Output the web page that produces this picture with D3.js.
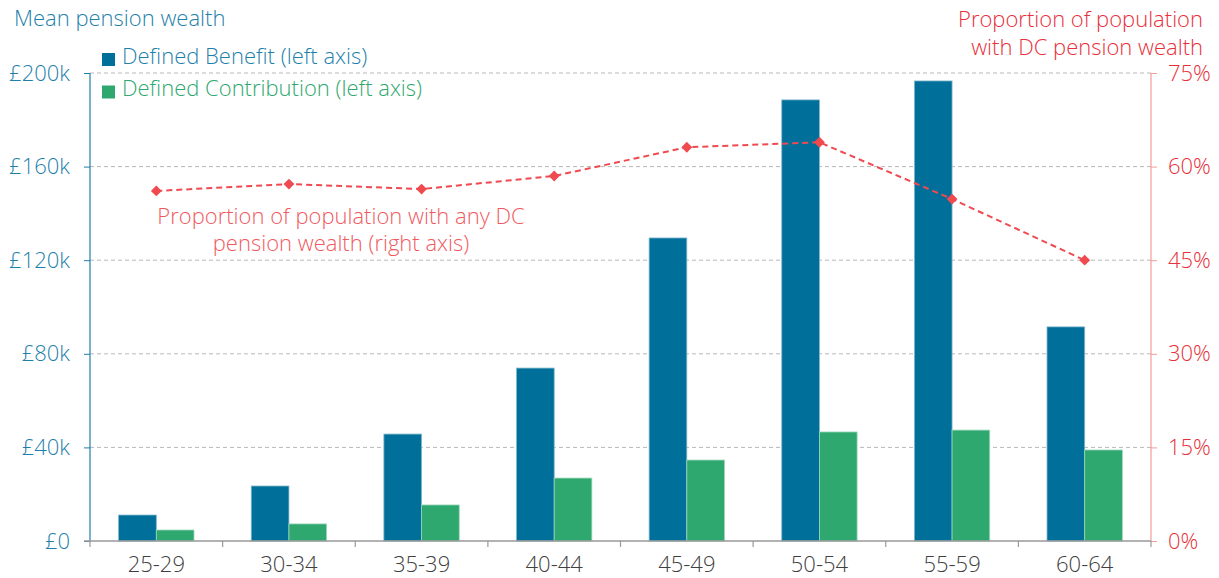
<!DOCTYPE html>
<html>
<head>
<meta charset="utf-8">
<script src="https://cdn.jsdelivr.net/npm/d3@7"></script>
<style>
  html, body { margin: 0; padding: 0; background: #fff; }
  svg { display: block; font-family: "Open Sans", "Roboto", sans-serif; font-weight: 300; }
</style>
</head>
<body>
<svg id="chart" width="1219" height="578"></svg>
<script>
// Age groups
const ageGroups = ["25-29", "30-34", "35-39", "40-44", "45-49", "50-54", "55-59", "60-64"];
// Mean pension wealth (£k)
const definedBenefit = [11.1, 23.5, 45.7, 73.9, 129.5, 188.5, 196.6, 91.5];
const definedContribution = [4.7, 7.3, 15.4, 26.9, 34.6, 46.6, 47.4, 38.9];
// Share of population with any DC pension wealth (%)
const dcShare = [56.1, 57.2, 56.4, 58.5, 63.1, 63.9, 54.8, 45.0];
// Axis ticks
const leftTicks = [0, 40, 80, 120, 160, 200];
const rightTicks = [0, 15, 30, 45, 60, 75];

const colDB = "#006f9a", colDC = "#2ea86e", colLine = "#ef4a50";
const colLeft = "#1e7fab", colRight = "#e8303a";
const FONT = "22px";

const svg = d3.select("#chart");
const x0 = 90, x1 = 1151, yTop = 73, yBot = 541;

const x = d3.scaleBand().domain(ageGroups).range([x0, x1]).paddingInner(0).paddingOuter(0);
const sub = d3.scaleBand().domain(["db", "dc"]).range([0, x.bandwidth()]).paddingOuter(0.76).paddingInner(0);
const yL = d3.scaleLinear().domain([0, 200]).range([yBot, yTop]);
const yR = d3.scaleLinear().domain([0, 75]).range([yBot, yTop]);

// Gridlines
svg.append("g").selectAll("line").data(leftTicks.filter(d => d > 0)).join("line")
  .attr("x1", x0).attr("x2", x1)
  .attr("y1", d => yL(d)).attr("y2", d => yL(d))
  .attr("stroke", "#b8b8b8").attr("stroke-width", 1).attr("stroke-dasharray", "4,3");

// Bars
const groups = svg.append("g").selectAll("g").data(ageGroups).join("g")
  .attr("transform", d => `translate(${x(d)},0)`);
groups.append("rect")
  .attr("x", sub("db")).attr("width", sub.bandwidth())
  .attr("y", (d, i) => yL(definedBenefit[i]))
  .attr("height", (d, i) => yBot - yL(definedBenefit[i]))
  .attr("fill", colDB).attr("stroke", "#7fb7cc").attr("stroke-width", 0.8);
groups.append("rect")
  .attr("x", sub("dc")).attr("width", sub.bandwidth())
  .attr("y", (d, i) => yL(definedContribution[i]))
  .attr("height", (d, i) => yBot - yL(definedContribution[i]))
  .attr("fill", colDC).attr("stroke", "#9fd8bc").attr("stroke-width", 0.8);

// Left axis
const leftAxis = svg.append("g").attr("transform", `translate(${x0},0)`)
  .call(d3.axisLeft(yL).tickValues(leftTicks).tickSize(6).tickPadding(14).tickFormat(d => `£${d === 0 ? 0 : d + "k"}`));
leftAxis.select(".domain").attr("stroke", colLeft).attr("stroke-width", 1.2).attr("d", `M0,${yTop}V${yBot}`);
leftAxis.selectAll(".tick line").attr("stroke", colLeft);
leftAxis.selectAll(".tick text").attr("fill", colLeft).style("font-size", FONT).style("font-family", "Open Sans").style("font-weight", 300);

// Right axis
const rightAxis = svg.append("g").attr("transform", `translate(${x1},0)`)
  .call(d3.axisRight(yR).tickValues(rightTicks).tickSize(6).tickPadding(11).tickFormat(d => d + "%"));
rightAxis.select(".domain").attr("stroke", "#f59a9c").attr("stroke-width", 1.2).attr("d", `M0,${yTop}V${yBot}`);
rightAxis.selectAll(".tick line").attr("stroke", "#f59a9c");
rightAxis.selectAll(".tick text").attr("fill", colRight).style("font-size", FONT).style("font-family", "Open Sans").style("font-weight", 300);

// Bottom axis: ticks at group boundaries
const bottom = svg.append("g");
bottom.append("line").attr("x1", 84).attr("x2", x1).attr("y1", yBot).attr("y2", yBot)
  .attr("stroke", "#999").attr("stroke-width", 1.5);
const bounds = ageGroups.map(d => x(d)).concat([x1]);
bottom.selectAll("line.b").data(bounds).join("line").attr("class", "b")
  .attr("x1", d => d).attr("x2", d => d).attr("y1", yBot).attr("y2", yBot + 6)
  .attr("stroke", "#999").attr("stroke-width", 1.2);
bottom.selectAll("text").data(ageGroups).join("text")
  .attr("x", d => x(d) + x.bandwidth() / 2).attr("y", 572)
  .attr("text-anchor", "middle").attr("fill", "#404040")
  .style("font-size", FONT).text(d => d);

// DC share line
const lineGen = d3.line().x((d, i) => x(ageGroups[i]) + x.bandwidth() / 2).y(d => yR(d));
svg.append("path").datum(dcShare).attr("d", lineGen)
  .attr("fill", "none").attr("stroke", colLine).attr("stroke-width", 2).attr("stroke-dasharray", "6,4");
svg.append("g").selectAll("path").data(dcShare).join("path")
  .attr("transform", (d, i) => `translate(${x(ageGroups[i]) + x.bandwidth() / 2},${yR(d)})`)
  .attr("d", d3.symbol(d3.symbolDiamond2, 75))
  .attr("fill", colLine);

// Titles
svg.append("text").attr("x", 14).attr("y", 26).attr("fill", colLeft)
  .style("font-size", FONT).text("Mean pension wealth");
const rtLines = ["Proportion of population", "with DC pension wealth"];
svg.append("g").selectAll("text").data(rtLines).join("text")
  .attr("x", 1203).attr("y", (d, i) => 27 + i * 28)
  .attr("text-anchor", "end").attr("fill", colRight).style("font-size", FONT)
  .text(d => d);

// Legend
const legend = [["Defined Benefit (left axis)", colDB, colLeft], ["Defined Contribution (left axis)", colDC, colDC]];
const lg = svg.append("g").selectAll("g").data(legend).join("g")
  .attr("transform", (d, i) => `translate(102,${59.5 + i * 32.5})`);
lg.append("rect").attr("x", 0).attr("y", -6.5).attr("width", 13).attr("height", 13).attr("fill", d => d[1]);
lg.append("text").attr("x", 20).attr("y", 4).attr("fill", d => d[2]).style("font-size", FONT).text(d => d[0]);

// Line annotation
const ann = svg.append("text").attr("text-anchor", "middle").attr("fill", "#f05a5f").style("font-size", FONT);
ann.append("tspan").attr("x", 341).attr("y", 224).text("Proportion of population with any DC");
ann.append("tspan").attr("x", 341).attr("y", 251).text("pension wealth (right axis)");
</script>
</body>
</html>
